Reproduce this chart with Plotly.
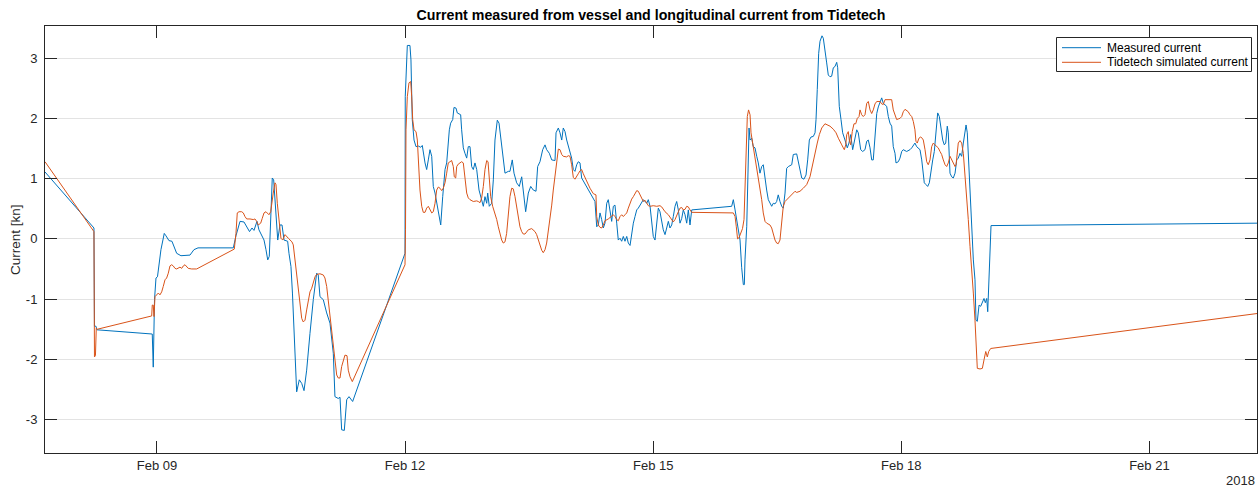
import pandas as pd
import plotly.graph_objects as go

# Time is given as fractional day of February 2018
measured_day = [
    7.646, 8.238, 8.244, 8.262, 8.274, 8.936, 8.943, 8.955, 8.964, 8.970,
    8.988, 9.006, 9.048, 9.088, 9.109, 9.145, 9.181, 9.206, 9.238, 9.290,
    9.351, 9.399, 9.447, 9.496, 9.923, 9.955, 10.004, 10.052, 10.119, 10.149,
    10.173, 10.209, 10.233, 10.294, 10.318, 10.339, 10.358, 10.372, 10.394, 10.411,
    10.427, 10.447, 10.460, 10.487, 10.512, 10.536, 10.580, 10.596, 10.620, 10.638,
    10.657, 10.669, 10.689, 10.721, 10.750, 10.778, 10.810, 10.850, 10.890, 10.931,
    10.950, 10.971, 11.011, 11.052, 11.092, 11.132, 11.152, 11.192, 11.213, 11.233,
    11.265, 11.294, 11.322, 11.366, 11.999, 12.002, 12.027, 12.059, 12.071, 12.087,
    12.108, 12.132, 12.160, 12.189, 12.208, 12.241, 12.261, 12.281, 12.301, 12.322,
    12.341, 12.362, 12.382, 12.402, 12.431, 12.455, 12.483, 12.503, 12.535, 12.551,
    12.576, 12.591, 12.616, 12.631, 12.672, 12.684, 12.704, 12.724, 12.745, 12.764,
    12.785, 12.805, 12.825, 12.845, 12.866, 12.894, 12.926, 12.946, 12.966, 12.987,
    12.999, 13.018, 13.047, 13.067, 13.087, 13.115, 13.136, 13.168, 13.187, 13.208,
    13.248, 13.268, 13.296, 13.317, 13.349, 13.381, 13.410, 13.429, 13.458, 13.490,
    13.519, 13.550, 13.583, 13.603, 13.631, 13.664, 13.692, 13.712, 13.744, 13.773,
    13.813, 13.825, 13.853, 13.873, 13.894, 13.913, 13.934, 13.954, 13.973, 13.994,
    14.014, 14.034, 14.054, 14.075, 14.094, 14.115, 14.135, 14.296, 14.317, 14.336,
    14.357, 14.377, 14.397, 14.417, 14.438, 14.457, 14.478, 14.498, 14.518, 14.538,
    14.559, 14.578, 14.599, 14.619, 14.639, 14.659, 14.680, 14.699, 14.720, 14.740,
    14.760, 14.780, 14.801, 14.820, 14.861, 14.881, 14.922, 14.941, 14.962, 14.982,
    15.001, 15.022, 15.042, 15.062, 15.082, 15.103, 15.122, 15.143, 15.163, 15.183,
    15.203, 15.224, 15.243, 15.264, 15.284, 15.304, 15.324, 15.345, 15.364, 15.385,
    15.405, 15.425, 15.445, 15.466, 15.949, 15.969, 15.990, 16.010, 16.029, 16.050,
    16.070, 16.090, 16.102, 16.110, 16.131, 16.143, 16.159, 16.171, 16.191, 16.210,
    16.231, 16.252, 16.271, 16.291, 16.312, 16.331, 16.352, 16.372, 16.392, 16.412,
    16.433, 16.452, 16.473, 16.493, 16.512, 16.533, 16.554, 16.573, 16.594, 16.614,
    16.634, 16.675, 16.694, 16.735, 16.754, 16.775, 16.796, 16.823, 16.848, 16.868,
    16.888, 16.908, 16.936, 16.957, 16.969, 16.984, 17.001, 17.017, 17.041, 17.057,
    17.077, 17.098, 17.117, 17.138, 17.158, 17.178, 17.198, 17.219, 17.231, 17.250,
    17.271, 17.291, 17.319, 17.347, 17.367, 17.388, 17.412, 17.440, 17.461, 17.480,
    17.509, 17.533, 17.561, 17.582, 17.601, 17.622, 17.642, 17.661, 17.682, 17.703,
    17.722, 17.743, 17.763, 17.782, 17.803, 17.823, 17.843, 17.863, 17.884, 17.903,
    17.924, 17.936, 17.964, 17.984, 18.005, 18.024, 18.065, 18.105, 18.126, 18.145,
    18.165, 18.186, 18.226, 18.247, 18.266, 18.278, 18.299, 18.319, 18.339, 18.359,
    18.380, 18.399, 18.420, 18.440, 18.460, 18.480, 18.501, 18.520, 18.537, 18.556,
    18.568, 18.589, 18.609, 18.629, 18.650, 18.670, 18.689, 18.710, 18.730, 18.750,
    18.770, 18.783, 18.798, 18.815, 18.831, 18.851, 18.871, 18.891, 18.903, 18.919,
    18.940, 18.960, 18.980, 19.000, 19.016, 19.033, 19.045, 19.052, 19.073, 19.085, 22.301,
]
measured_kn = [
    1.11, 0.18, -1.45, -1.45, -1.51, -1.57, -1.58, -2.13, -1.68, -1.01,
    -0.65, -0.63, -0.18, 0.09, 0.05, -0.03, -0.04, -0.12, -0.24, -0.28,
    -0.27, -0.27, -0.18, -0.15, -0.15, 0.05, 0.29, 0.28, 0.12, 0.18,
    0.14, 0.29, 0.15, -0.02, -0.18, -0.35, -0.29, 0.32, 1.01, 0.98,
    0.65, 0.15, -0.02, 0.23, 0.23, -0.02, -0.04, -0.24, -0.46, -0.90,
    -1.46, -2.01, -2.54, -2.34, -2.40, -2.52, -2.18, -1.57, -1.01, -0.57,
    -0.60, -0.96, -1.01, -1.23, -1.40, -1.90, -2.62, -2.65, -2.63, -3.17,
    -3.18, -2.67, -2.62, -2.70, -0.24, 2.36, 3.21, 3.21, 2.97, 1.98,
    1.64, 1.53, 1.54, 1.52, 1.55, 1.26, 1.15, 1.31, 1.48, 1.37,
    0.87, 0.76, 0.59, 0.40, 0.23, 0.70, 1.15, 1.26, 1.81, 1.92,
    1.98, 2.18, 2.17, 2.09, 2.06, 1.81, 1.51, 1.42, 1.34, 1.53,
    1.53, 1.20, 1.15, 1.26, 1.15, 0.81, 0.65, 0.54, 0.70, 0.59,
    0.76, 0.54, 0.59, 0.98, 1.64, 1.97, 1.92, 1.53, 1.26, 1.09,
    1.12, 1.12, 1.31, 1.09, 0.93, 0.87, 1.03, 0.81, 0.45, 0.76,
    0.87, 0.81, 0.79, 1.20, 1.28, 1.48, 1.56, 1.48, 1.42, 1.31,
    1.30, 1.76, 1.84, 1.76, 1.64, 1.84, 1.78, 1.64, 1.53, 1.42,
    1.34, 1.15, 1.12, 1.23, 1.28, 1.26, 1.01, 0.62, 0.20, 0.23,
    0.43, 0.32, 0.18, 0.26, 0.59, 0.65, 0.48, 0.29, 0.54, 0.56,
    0.26, -0.02, 0.01, -0.04, 0.04, -0.04, 0.04, -0.07, -0.11, 0.09,
    0.26, 0.37, 0.48, 0.51, 0.62, 0.65, 0.59, 0.65, 0.54, 0.32,
    0.04, -0.02, 0.26, 0.51, 0.45, 0.26, 0.15, 0.07, 0.20, 0.29,
    0.18, 0.23, 0.37, 0.54, 0.62, 0.48, 0.26, 0.34, 0.48, 0.40,
    0.26, 0.48, 0.23, 0.48, 0.54, 0.65, 0.48, 0.32, 0.15, -0.02,
    -0.48, -0.76, -0.76, -0.35, 0.20, 1.15, 1.84, 1.64, 1.67, 1.53,
    1.51, 1.37, 1.26, 1.09, 1.20, 1.23, 0.98, 0.81, 0.65, 0.59,
    0.54, 0.59, 0.58, 0.62, 0.73, 0.62, 0.54, 0.51, 0.76, 1.17,
    1.20, 1.23, 1.40, 1.41, 1.28, 1.09, 1.01, 0.99, 1.06, 1.31,
    1.64, 1.69, 1.70, 1.76, 1.98, 2.48, 3.08, 3.28, 3.37, 3.33,
    3.08, 2.92, 2.72, 2.69, 2.70, 2.84, 2.86, 2.93, 2.84, 2.20,
    1.98, 1.76, 1.64, 1.51, 1.59, 1.73, 1.48, 1.67, 1.81, 1.76,
    1.48, 1.45, 1.48, 1.62, 1.64, 1.51, 1.31, 1.31, 1.76, 2.08,
    2.19, 2.28, 2.34, 2.25, 2.23, 2.20, 2.03, 1.92, 1.87, 1.53,
    1.42, 1.26, 1.28, 1.34, 1.45, 1.48, 1.45, 1.48, 1.51, 1.56,
    1.59, 1.53, 1.48, 1.31, 1.09, 0.93, 0.90, 0.87, 0.93, 1.15,
    1.31, 1.45, 1.81, 2.09, 2.03, 1.81, 1.64, 1.56, 1.59, 1.87,
    1.76, 1.09, 1.03, 1.01, 1.09, 1.31, 1.34, 1.42, 1.37, 1.59,
    1.81, 1.89, 1.76, 1.26, 1.03, 0.32, -0.35, -0.68, -1.35, -1.37,
    -1.10, -1.12, -1.04, -0.99, -1.06, -0.99, -1.21, -0.90, 0.09, 0.22, 0.26,
]

tidetech_day = [
    7.646, 8.238, 8.244, 8.256, 8.266, 8.281, 8.936, 8.943, 8.955, 8.964,
    8.976, 8.996, 9.016, 9.036, 9.057, 9.076, 9.097, 9.117, 9.137, 9.157,
    9.178, 9.197, 9.218, 9.238, 9.258, 9.278, 9.299, 9.318, 9.339, 9.359,
    9.378, 9.420, 9.480, 9.935, 9.955, 9.971, 9.992, 10.024, 10.044, 10.064,
    10.085, 10.125, 10.164, 10.185, 10.206, 10.225, 10.254, 10.273, 10.294, 10.318,
    10.334, 10.354, 10.375, 10.387, 10.406, 10.427, 10.439, 10.455, 10.479, 10.499,
    10.520, 10.548, 10.588, 10.617, 10.632, 10.648, 10.669, 10.689, 10.709, 10.729,
    10.750, 10.769, 10.790, 10.810, 10.830, 10.850, 10.871, 10.890, 10.911, 10.931,
    10.971, 11.011, 11.031, 11.052, 11.071, 11.092, 11.112, 11.132, 11.152, 11.173,
    11.192, 11.213, 11.233, 11.253, 11.273, 11.298, 11.313, 11.334, 11.362, 11.999,
    12.005, 12.011, 12.027, 12.047, 12.068, 12.080, 12.092, 12.108, 12.132, 12.148,
    12.160, 12.180, 12.201, 12.220, 12.241, 12.261, 12.281, 12.301, 12.322, 12.341,
    12.362, 12.382, 12.402, 12.422, 12.443, 12.462, 12.483, 12.503, 12.522, 12.543,
    12.563, 12.583, 12.595, 12.612, 12.624, 12.643, 12.664, 12.684, 12.704, 12.724,
    12.745, 12.764, 12.785, 12.825, 12.866, 12.885, 12.906, 12.926, 12.946, 12.966,
    12.987, 13.003, 13.018, 13.035, 13.059, 13.087, 13.108, 13.127, 13.148, 13.168,
    13.187, 13.208, 13.228, 13.248, 13.268, 13.289, 13.308, 13.329, 13.349, 13.369,
    13.389, 13.410, 13.429, 13.450, 13.470, 13.490, 13.531, 13.571, 13.591, 13.611,
    13.631, 13.652, 13.671, 13.692, 13.712, 13.731, 13.752, 13.773, 13.792, 13.813,
    13.833, 13.853, 13.873, 13.894, 13.913, 13.954, 13.973, 13.994, 14.014, 14.034,
    14.054, 14.075, 14.094, 14.115, 14.135, 14.155, 14.196, 14.236, 14.276, 14.308,
    14.317, 14.336, 14.357, 14.377, 14.397, 14.417, 14.457, 14.498, 14.518, 14.538,
    14.559, 14.578, 14.599, 14.619, 14.639, 14.659, 14.680, 14.699, 14.720, 14.740,
    14.760, 14.780, 14.801, 14.820, 14.841, 14.861, 14.881, 14.901, 14.922, 14.941,
    14.962, 15.001, 15.042, 15.082, 15.103, 15.122, 15.143, 15.183, 15.224, 15.243,
    15.264, 15.284, 15.304, 15.324, 15.345, 15.364, 15.385, 15.405, 15.425, 15.445,
    15.466, 15.969, 15.990, 16.005, 16.020, 16.038, 16.058, 16.080, 16.098, 16.119,
    16.138, 16.153, 16.171, 16.183, 16.203, 16.231, 16.252, 16.271, 16.291, 16.312,
    16.331, 16.352, 16.372, 16.412, 16.433, 16.452, 16.473, 16.493, 16.512, 16.533,
    16.554, 16.573, 16.594, 16.614, 16.654, 16.694, 16.715, 16.735, 16.775, 16.815,
    16.856, 16.896, 16.929, 16.957, 16.984, 17.009, 17.038, 17.077, 17.105, 17.138,
    17.178, 17.211, 17.239, 17.259, 17.280, 17.299, 17.311, 17.328, 17.340, 17.359,
    17.371, 17.388, 17.407, 17.428, 17.449, 17.468, 17.489, 17.501, 17.521, 17.540,
    17.561, 17.582, 17.601, 17.622, 17.642, 17.661, 17.682, 17.703, 17.743, 17.763,
    17.782, 17.803, 17.863, 17.884, 17.903, 17.924, 17.944, 17.964, 17.984, 18.005,
    18.024, 18.045, 18.065, 18.084, 18.105, 18.126, 18.145, 18.165, 18.177, 18.193,
    18.213, 18.234, 18.253, 18.266, 18.287, 18.307, 18.326, 18.347, 18.367, 18.387,
    18.407, 18.428, 18.447, 18.468, 18.488, 18.508, 18.529, 18.549, 18.568, 18.589,
    18.609, 18.629, 18.650, 18.662, 18.677, 18.689, 18.710, 18.730, 18.750, 18.770,
    18.791, 18.810, 18.831, 18.851, 18.871, 18.891, 18.903, 18.919, 18.952, 18.980,
    19.000, 19.021, 19.040, 19.057, 19.081, 22.301,
]
tidetech_kn = [
    1.28, 0.12, -1.96, -1.94, -1.48, -1.50, -1.28, -1.10, -1.10, -1.29,
    -0.96, -0.93, -0.90, -0.93, -0.88, -0.79, -0.68, -0.65, -0.57, -0.45,
    -0.43, -0.45, -0.49, -0.50, -0.49, -0.47, -0.49, -0.45, -0.43, -0.46,
    -0.49, -0.50, -0.50, -0.17, 0.09, 0.43, 0.45, 0.45, 0.43, 0.37,
    0.33, 0.33, 0.32, 0.33, 0.29, 0.23, 0.26, 0.34, 0.43, 0.45,
    0.42, 0.40, 0.45, 0.59, 0.76, 0.93, 0.90, 0.59, 0.20, 0.01,
    -0.02, 0.07, 0.01, -0.02, -0.05, -0.10, -0.35, -0.63, -0.90, -1.12,
    -1.32, -1.38, -1.35, -1.18, -1.01, -0.88, -0.82, -0.74, -0.63, -0.59,
    -0.58, -0.60, -0.65, -0.79, -1.01, -1.23, -1.46, -1.68, -2.01, -2.26,
    -2.31, -2.31, -2.12, -2.01, -1.93, -1.94, -2.18, -2.29, -2.37, -0.43,
    0.15, 1.81, 2.36, 2.59, 2.61, 2.36, 1.98, 1.81, 1.78, 1.64,
    1.26, 0.81, 0.54, 0.44, 0.44, 0.51, 0.54, 0.48, 0.43, 0.45,
    0.59, 0.81, 0.86, 0.84, 0.80, 0.84, 0.93, 1.09, 1.26, 1.28,
    1.30, 1.20, 1.03, 1.01, 1.20, 1.24, 1.26, 1.28, 1.26, 1.03,
    0.76, 0.68, 0.65, 0.62, 0.63, 0.62, 0.60, 0.68, 0.87, 1.15,
    1.30, 1.28, 1.03, 0.70, 0.54, 0.43, 0.32, 0.20, 0.09, -0.02,
    -0.07, -0.05, 0.09, 0.37, 0.70, 0.84, 0.83, 0.70, 0.54, 0.34,
    0.20, 0.12, 0.08, 0.08, 0.12, 0.15, 0.17, 0.12, 0.07, -0.02,
    -0.13, -0.19, -0.23, -0.18, -0.07, 0.12, 0.28, 0.56, 0.81, 1.06,
    1.31, 1.49, 1.48, 1.40, 1.37, 1.36, 1.38, 1.37, 1.23, 1.02,
    0.99, 1.03, 1.08, 1.13, 1.15, 1.08, 0.95, 0.84, 0.75, 0.73,
    0.37, 0.23, 0.19, 0.18, 0.23, 0.30, 0.33, 0.37, 0.40, 0.37,
    0.32, 0.30, 0.37, 0.40, 0.37, 0.40, 0.43, 0.51, 0.59, 0.66,
    0.70, 0.76, 0.80, 0.79, 0.73, 0.68, 0.62, 0.64, 0.59, 0.55,
    0.54, 0.55, 0.54, 0.55, 0.53, 0.48, 0.45, 0.40, 0.32, 0.28,
    0.32, 0.40, 0.45, 0.51, 0.52, 0.48, 0.49, 0.54, 0.53, 0.48,
    0.44, 0.43, 0.37, 0.20, 0.00, 0.02, 0.11, 0.17, 0.32, 1.15,
    2.03, 2.14, 2.06, 1.76, 1.59, 1.37, 1.20, 1.03, 0.81, 0.65,
    0.43, 0.29, 0.26, 0.23, 0.18, 0.09, -0.02, -0.07, -0.08, -0.02,
    0.32, 0.54, 0.62, 0.65, 0.70, 0.77, 0.79, 0.77, 0.79, 0.84,
    0.90, 1.03, 1.26, 1.45, 1.59, 1.73, 1.84, 1.91, 1.89, 1.87,
    1.82, 1.76, 1.67, 1.60, 1.56, 1.51, 1.48, 1.56, 1.73, 1.78,
    1.64, 1.56, 1.78, 1.91, 1.91, 2.00, 2.03, 2.14, 2.06, 2.03,
    2.06, 2.25, 2.28, 2.14, 2.08, 2.14, 2.24, 2.28, 2.28, 2.24,
    2.23, 2.31, 2.31, 2.31, 2.14, 2.06, 1.98, 1.99, 2.00, 2.03,
    2.11, 2.15, 2.13, 2.11, 2.06, 2.03, 1.95, 1.81, 1.62, 1.59,
    1.67, 1.69, 1.67, 1.64, 1.48, 1.28, 1.23, 1.31, 1.53, 1.59,
    1.56, 1.53, 1.51, 1.45, 1.40, 1.31, 1.23, 1.20, 1.26, 1.37,
    1.31, 1.26, 1.20, 1.23, 1.42, 1.59, 1.63, 1.59, 1.42, 1.09,
    0.70, 0.32, -0.13, -0.46, -0.90, -1.35, -1.84, -2.15, -2.16, -2.15,
    -2.01, -1.87, -1.96, -1.87, -1.82, -1.24,
]

series_names = ["Measured current", "Tidetech simulated current"]
series_colors = ["#0072BD", "#D95319"]
x_tick_days = [9, 12, 15, 18, 21]
x_tick_labels = ["Feb 09", "Feb 12", "Feb 15", "Feb 18", "Feb 21"]
y_tick_values = [-3, -2, -1, 0, 1, 2, 3]
y_tick_labels = ["-3", "-2", "-1", "0", "1", "2", "3"]

assert len(measured_day) == len(measured_kn), (len(measured_day), len(measured_kn))
assert len(tidetech_day) == len(tidetech_kn), (len(tidetech_day), len(tidetech_kn))

BASE = pd.Timestamp("2018-02-01")


def to_time(days):
    return [BASE + pd.to_timedelta(d - 1, unit="D") for d in days]


FONT = "Liberation Sans, Arial, Helvetica, sans-serif"
AX = "#262626"

# plot-area geometry in pixels (used to place the hand-made legend box)
W, H = 1258, 489
L, R, T, B = 45, 1, 26, 36
PW, PH = W - L - R, H - T - B


def px_x(px):
    return (px - L) / PW


def px_y(py):
    return (H - B - py) / PH


fig = go.Figure()
fig.add_trace(go.Scatter(x=to_time(measured_day), y=measured_kn, mode="lines",
                         name=series_names[0], showlegend=False,
                         line=dict(color=series_colors[0], width=1)))
fig.add_trace(go.Scatter(x=to_time(tidetech_day), y=tidetech_kn, mode="lines",
                         name=series_names[1], showlegend=False,
                         line=dict(color=series_colors[1], width=1)))

# legend (box, line samples, labels)
shapes = [dict(type="rect", xref="paper", yref="paper",
               x0=px_x(1056.5), x1=px_x(1251.5), y0=px_y(71.5), y1=px_y(37.5),
               line=dict(color=AX, width=1), fillcolor="white", layer="above")]
annotations = []
for i, (nm, col) in enumerate(zip(series_names, series_colors)):
    yy = px_y(47.7 + 14.6 * i)
    shapes.append(dict(type="line", xref="paper", yref="paper",
                       x0=px_x(1062), x1=px_x(1101), y0=yy, y1=yy,
                       line=dict(color=col, width=1), layer="above"))
    annotations.append(dict(text=nm, xref="paper", yref="paper",
                            x=px_x(1105), y=yy, xanchor="left", yanchor="middle",
                            showarrow=False,
                            font=dict(size=12, color="#000000", family=FONT)))

annotations += [
    dict(text="Current [kn]", textangle=-90, xref="paper", yref="paper",
         x=px_x(15.5), y=0.5, xanchor="center", yanchor="middle",
         showarrow=False, font=dict(size=13.5, color=AX, family=FONT)),
    dict(text="2018", xref="paper", yref="paper", x=1.0, xanchor="right",
         y=px_y(480.5), yanchor="middle", showarrow=False,
         font=dict(size=13, color=AX, family=FONT)),
]

fig.update_layout(
    width=W, height=H,
    margin=dict(l=L, r=R, t=T, b=B),
    paper_bgcolor="white", plot_bgcolor="white",
    font=dict(family=FONT, size=13, color=AX),
    title=dict(text="<b>Current measured from vessel and longitudinal current from Tidetech</b>",
               x=0.5, xref="paper", xanchor="center",
               y=1 - 15 / H, yref="container", yanchor="middle",
               font=dict(size=14.2, color="#000000", family=FONT)),
    showlegend=False,
    xaxis=dict(range=[BASE + pd.to_timedelta(7.646 - 1, unit="D"),
                      BASE + pd.to_timedelta(22.301 - 1, unit="D")],
               tickmode="array", tickvals=to_time(x_tick_days), ticktext=x_tick_labels,
               ticks="inside", ticklen=12, tickwidth=1, tickcolor=AX,
               showline=True, linecolor=AX, linewidth=1, mirror="ticks",
               showgrid=False, zeroline=False,
               tickfont=dict(size=13, color=AX, family=FONT)),
    yaxis=dict(range=[-3.555, 3.533],
               tickmode="array", tickvals=y_tick_values, ticktext=y_tick_labels,
               ticks="inside", ticklen=12, tickwidth=1, tickcolor=AX,
               showline=True, linecolor=AX, linewidth=1, mirror="ticks",
               showgrid=True, gridcolor="#E3E3E3", gridwidth=1, zeroline=False,
               ticklabelstandoff=4,
               tickfont=dict(size=13, color=AX, family=FONT)),
    shapes=shapes,
    annotations=annotations,
)

fig.write_html("out.html")
